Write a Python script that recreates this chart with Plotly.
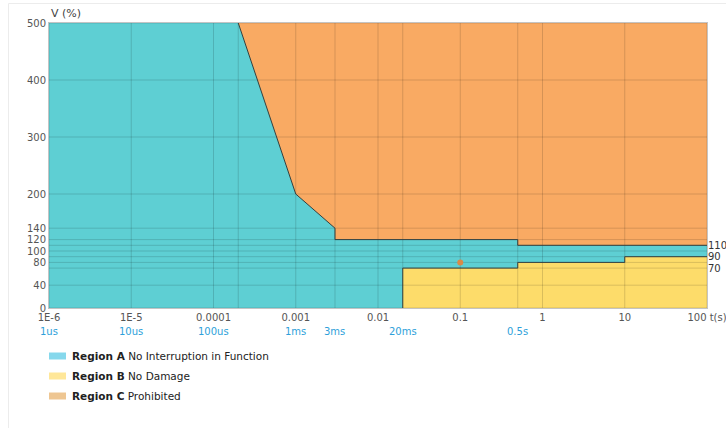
import math
import plotly.graph_objects as go

# ---- data ----
# Upper boundary (Region A / Region C), time in seconds, voltage in %
upper_t = [0.0002, 0.001, 0.003, 0.003, 0.5, 0.5, 100]
upper_v = [500, 200, 140, 120, 120, 110, 110]
# Lower boundary (Region A / Region B)
lower_t = [0.02, 0.02, 0.5, 0.5, 10, 10, 100]
lower_v = [0, 70, 70, 80, 80, 90, 90]

t_min, t_max = 1e-6, 100
v_min, v_max = 0, 500

# marked point
point_t = [0.1]
point_v = [80]

x_tickvals = [1e-6, 1e-5, 1e-4, 1e-3, 1e-2, 0.1, 1, 10, 100]
x_ticktext = ["1E-6", "1E-5", "0.0001", "0.001", "0.01", "0.1", "1", "10", "100 t(s)"]
time_vals = [1e-6, 1e-5, 1e-4, 1e-3, 3e-3, 2e-2, 0.5]
time_text = ["1us", "10us", "100us", "1ms", "3ms", "20ms", "0.5s"]
extra_x_grid = [0.0002, 0.003, 0.02, 0.5]

y_left_ticks = [0, 40, 80, 100, 120, 140, 200, 300, 400, 500]
y_right_ticks = [70, 90, 110]

region_names = ["Region A", "Region B", "Region C"]
region_desc = ["No Interruption in Function", "No Damage", "Prohibited"]
region_fill = ["#5ECFD3", "#FDDC6A", "#F9AA63"]
legend_swatch = ["#86D8EC", "#FFE799", "#EEC692"]

FONT = "DejaVu Sans"

fig = go.Figure()

# Region A: whole area
fig.add_trace(go.Scatter(
    x=[t_min, t_min, t_max, t_max, t_min], y=[v_min, v_max, v_max, v_min, v_min],
    mode="lines", fill="toself", fillcolor=region_fill[0], line=dict(width=0),
    hoverinfo="skip", showlegend=False))
# Region C: above the upper boundary
fig.add_trace(go.Scatter(
    x=upper_t + [t_max, upper_t[0]], y=upper_v + [v_max, v_max],
    mode="lines", fill="toself", fillcolor=region_fill[2], line=dict(width=0),
    hoverinfo="skip", showlegend=False))
# Region B: below the lower boundary
fig.add_trace(go.Scatter(
    x=lower_t + [t_max, lower_t[0]], y=lower_v + [v_min, v_min],
    mode="lines", fill="toself", fillcolor=region_fill[1], line=dict(width=0),
    hoverinfo="skip", showlegend=False))

# grid lines drawn above fills
gx, gy = [], []
for xv in x_tickvals + extra_x_grid:
    gx += [xv, xv, None]
    gy += [v_min, v_max, None]
for yv in sorted(set(y_left_ticks + y_right_ticks)):
    gx += [t_min, t_max, None]
    gy += [yv, yv, None]
fig.add_trace(go.Scatter(x=gx, y=gy, mode="lines",
                         line=dict(color="rgba(0,0,0,0.14)", width=1),
                         hoverinfo="skip", showlegend=False))

# boundary lines
fig.add_trace(go.Scatter(x=upper_t, y=upper_v, mode="lines",
                         line=dict(color="#34403f", width=1),
                         hoverinfo="skip", showlegend=False))
fig.add_trace(go.Scatter(x=lower_t, y=lower_v, mode="lines",
                         line=dict(color="#34403f", width=1),
                         hoverinfo="skip", showlegend=False))

# point
fig.add_trace(go.Scatter(x=point_t, y=point_v, mode="markers",
                         marker=dict(color="#DA8A48", size=6),
                         showlegend=False))

# invisible trace for right axis
fig.add_trace(go.Scatter(x=[t_min], y=[v_min], yaxis="y2", mode="markers",
                         marker=dict(opacity=0), hoverinfo="skip", showlegend=False))

fig.update_layout(
    width=726, height=428,
    margin=dict(l=49, r=19, t=23, b=120, autoexpand=False),
    paper_bgcolor="white", plot_bgcolor="white",
    font=dict(family=FONT, size=10, color="#555"),
    xaxis=dict(type="log", range=[math.log10(t_min), math.log10(t_max)],
               tickvals=x_tickvals, ticktext=x_ticktext, showgrid=False,
               zeroline=False, showline=True, linecolor="#c4c4c4", linewidth=1,
               mirror=True, ticks="", automargin=False, ticklabeloverflow="allow",
               tickfont=dict(size=10, color="#555")),
    yaxis=dict(range=[v_min, v_max], tickvals=y_left_ticks, showgrid=False,
               zeroline=False, showline=True, linecolor="#c4c4c4", linewidth=1,
               mirror=True, ticks="", automargin=False,
               tickfont=dict(size=10, color="#555")),
    yaxis2=dict(range=[v_min, v_max], tickvals=y_right_ticks, overlaying="y",
                side="right", showgrid=False, zeroline=False, showline=False,
                ticks="", automargin=False, ticklabeloverflow="allow",
                tickfont=dict(size=10, color="#333")),
    showlegend=False,
)

annotations = []
annotations.append(dict(text="V (%)", xref="paper", yref="paper", x=0, y=1,
                        xanchor="left", yanchor="bottom", yshift=1, showarrow=False,
                        font=dict(size=11, color="#444")))
for tv, tt in zip(time_vals, time_text):
    annotations.append(dict(text=tt, xref="x", yref="paper", x=math.log10(tv), y=0,
                            xanchor="center", yanchor="top", yshift=-16,
                            showarrow=False, font=dict(size=10, color="#2E9FDA")))

shapes = []
plot_w, plot_h = 658.0, 285.0
for i, (nm, ds, sc) in enumerate(zip(region_names, region_desc, legend_swatch)):
    cy = 356 + i * 20
    yc = (308 - cy) / plot_h
    shapes.append(dict(type="rect", xref="paper", yref="paper",
                       x0=0, x1=17 / plot_w, y0=yc - 3.5 / plot_h, y1=yc + 3.5 / plot_h,
                       fillcolor=sc, line=dict(width=0)))
    annotations.append(dict(text=f"<b>{nm}</b> {ds}", xref="paper", yref="paper",
                            x=21 / plot_w, y=yc, xanchor="left", yanchor="middle",
                            showarrow=False, font=dict(size=10.5, color="#222")))

# outer frame
shapes.append(dict(type="line", xref="paper", yref="paper",
                   x0=(8.5 - 49) / plot_w, x1=(726 - 49) / plot_w,
                   y0=(308 - 3.5) / plot_h, y1=(308 - 3.5) / plot_h,
                   line=dict(color="#ececec", width=1)))
shapes.append(dict(type="line", xref="paper", yref="paper",
                   x0=(8.5 - 49) / plot_w, x1=(8.5 - 49) / plot_w,
                   y0=(308 - 3.5) / plot_h, y1=(308 - 428) / plot_h,
                   line=dict(color="#ececec", width=1)))

fig.update_layout(annotations=annotations, shapes=shapes)

fig.write_html(
    "out.html",
    config={"displayModeBar": False},
    post_script=("document.documentElement.style.margin='0';"
                 "document.body.style.margin='0';"
                 "document.body.style.overflow='hidden';"
                 "document.documentElement.style.overflow='hidden';"),
)
